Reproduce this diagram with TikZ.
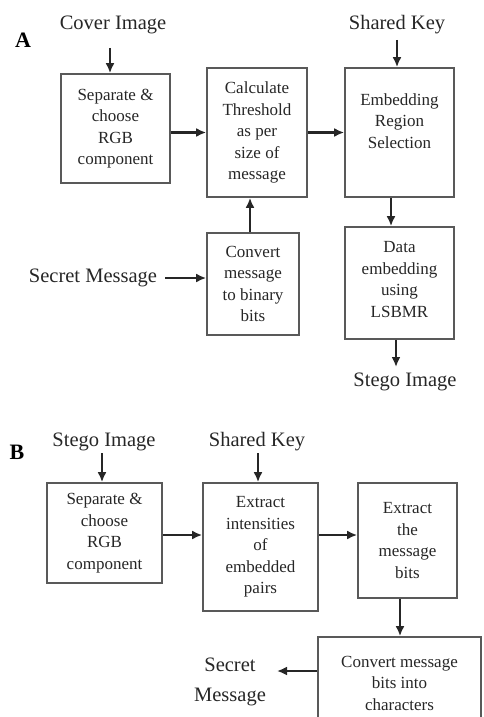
\documentclass[tikz,border=0pt]{standalone}
\usepackage{fontspec}
\setmainfont{Liberation Serif}
\usetikzlibrary{arrows.meta}
\begin{document}
\begin{tikzpicture}[x=1pt,y=-1pt,
  box/.style={draw=black!65, line width=1.7pt, inner sep=0pt, align=center,
    font=\fontsize{17}{21.5}\selectfont, text=black!85},
  boxtext/.style={align=center, inner sep=0pt,
    font=\fontsize{17}{21.5}\selectfont, text=black!85},
  lbl/.style={inner sep=0pt, align=center, font=\fontsize{20.5}{30}\selectfont, text=black!85},
  flow/.style={-{Latex[length=10pt,width=9pt]}, line width=2.4pt, draw=black!85},
  tag/.style={inner sep=0pt, font=\fontsize{22}{22}\bfseries\selectfont}]
\useasboundingbox (0,0) rectangle (483,717);
\clip (0,0) rectangle (483,717);

% ---------- part A: embedding ----------
\node[tag] (tagA) at (23,40) {A};
\node[lbl] (cover) at (113,25) {Cover Image};
\node[lbl] (keyA) at (397,25) {Shared Key};
\node[lbl] (secretA) at (93,278) {Secret Message};
\node[lbl] (stegoA) at (405,382) {Stego Image};

\node[box, minimum width=109, minimum height=109] (b1) at (115.5,128.5)
  {Separate \&\\choose\\RGB\\component};
\node[box, minimum width=100, minimum height=129] (b2) at (257,132.5)
  {Calculate\\Threshold\\as per\\size of\\message};
\node[box, minimum width=109, minimum height=129] (b3) at (399.5,132.5) {};
\node[boxtext] (b3t) at (399.5,121) {Embedding\\Region\\Selection};
\node[box, minimum width=92, minimum height=102] (b4) at (253,284)
  {Convert\\message\\to binary\\bits};
\node[box, minimum width=109, minimum height=112] (b5) at (399.5,283) {};
\node[boxtext] (b5t) at (399.5,279.5) {Data\\embedding\\using\\LSBMR};

\coordinate (cA) at (110,48);
\coordinate (kA) at (397,40);
\coordinate (sA) at (396,367);

\draw[flow] (cA) -- (cA |- b1.north);
\draw[flow] (kA) -- (kA |- b3.north);
\draw[flow] (b1.east |- b2.center) -- (b2.west);
\draw[flow] (b2.east) -- (b3.west);
\draw[flow] ([xshift=-3pt]b4.north) -- ([xshift=-3pt]b4.north |- b2.south);
\draw[flow] ([xshift=8pt]secretA.east) -- (secretA.east -| b4.west);
\draw[flow] ([xshift=-8.5pt]b3.south) -- ([xshift=-8.5pt]b3.south |- b5.north);
\draw[flow] (sA |- b5.south) -- (sA);

% ---------- part B: extraction ----------
\node[tag] (tagB) at (17,452) {B};
\node[lbl] (stegoB) at (104,442) {Stego Image};
\node[lbl] (keyB) at (257,442) {Shared Key};
\node[lbl] (secretB) at (230,682) {Secret\\Message};

\node[box, minimum width=115, minimum height=100] (b6) at (104.5,533)
  {Separate \&\\choose\\RGB\\component};
\node[box, minimum width=115, minimum height=128] (b7) at (260.5,547)
  {Extract\\intensities\\of\\embedded\\pairs};
\node[box, minimum width=99, minimum height=115] (b8) at (407.5,540.5)
  {Extract\\the\\message\\bits};
\node[box, minimum width=163, minimum height=98] (b9) at (399.5,686) {};
\node[boxtext] (b9t) at (399.5,683) {Convert message\\bits into\\characters};

\coordinate (cB) at (102,453);
\coordinate (kB) at (258,453);
\coordinate (mB) at (277,671);

\draw[flow] (cB) -- (cB |- b6.north);
\draw[flow] (kB) -- (kB |- b7.north);
\draw[flow] ([yshift=-2pt]b6.east) -- ([yshift=-2pt]b6.east -| b7.west);
\draw[flow] ([yshift=12pt]b7.east) -- ([yshift=12pt]b7.east -| b8.west);
\draw[flow] ([xshift=-7.5pt]b8.south) -- ([xshift=-7.5pt]b8.south |- b9.north);
\draw[flow] (mB -| b9.west) -- (mB);
\end{tikzpicture}
\end{document}
